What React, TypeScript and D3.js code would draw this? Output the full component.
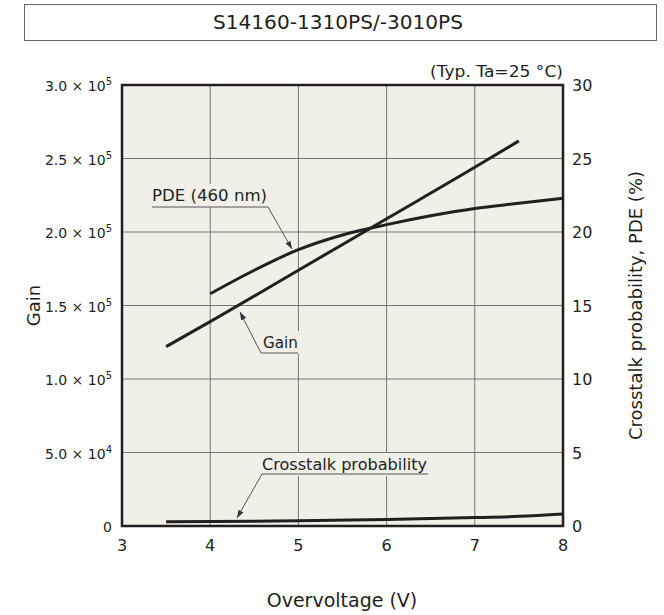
import * as d3 from "d3";

// overvoltage (V)
const gainVolts = [3.5, 4, 5, 6, 7, 7.5];
const gainValues = [1.22e5, 1.39e5, 1.74e5, 2.09e5, 2.44e5, 2.62e5];

const pdeVolts = [4, 4.5, 5, 5.5, 6, 6.5, 7, 7.5, 8];
const pdeValues = [15.8, 17.4, 18.8, 19.8, 20.5, 21.1, 21.6, 21.95, 22.3];

const ctVolts = [3.5, 4, 5, 6, 7, 7.5, 8];
const ctValues = [0.29, 0.3, 0.36, 0.45, 0.57, 0.66, 0.82];

const xTicks = [3, 4, 5, 6, 7, 8];
const gainTicks = [0, 5e4, 1e5, 1.5e5, 2e5, 2.5e5, 3e5];
const gainTickLabels = [
  ["0", ""],
  ["5.0 × 10", "4"],
  ["1.0 × 10", "5"],
  ["1.5 × 10", "5"],
  ["2.0 × 10", "5"],
  ["2.5 × 10", "5"],
  ["3.0 × 10", "5"],
];
const pctTicks = [0, 5, 10, 15, 20, 25, 30];

const W = 664;
const H = 615;
const m = { left: 122, right: 563, top: 85, bottom: 526 };
const ink = "#231f20";
const font = "'DejaVu Sans', Verdana, sans-serif";

export default function App() {
  const x = d3.scaleLinear().domain([3, 8]).range([m.left, m.right]);
  const yGain = d3.scaleLinear().domain([0, 3e5]).range([m.bottom, m.top]);
  const yPct = d3.scaleLinear().domain([0, 30]).range([m.bottom, m.top]);

  const gainLine = d3
    .line<number>()
    .x((d, i) => x(gainVolts[i]))
    .y((d) => yGain(d))
    .curve(d3.curveMonotoneX);
  const pctLine = (volts: number[]) =>
    d3
      .line<number>()
      .x((d, i) => x(volts[i]))
      .y((d) => yPct(d))
      .curve(d3.curveMonotoneX);

  const label = (
    text: string,
    tx: number,
    ty: number,
    w: number,
    leader: [number, number][]
  ) => (
    <g>
      <rect x={tx - 2} y={ty - 17} width={w + 4} height={23} fill="#f0efe8" />
      <text x={tx} y={ty} fontSize={16.5} fill={ink} fontFamily={font} textLength={w} lengthAdjust="spacingAndGlyphs">
        {text}
      </text>
      <path
        d={d3.line()(leader) || ""}
        fill="none"
        stroke="#555"
        strokeWidth={1}
        markerEnd="url(#arr)"
      />
    </g>
  );

  return (
    <svg width={W} height={H} style={{ position: "absolute", left: 0, top: 0 }}>
      <defs>
        <marker
          id="arr"
          viewBox="0 0 10 10"
          refX="10"
          refY="5"
          markerWidth="8"
          markerHeight="8"
          orient="auto"
          markerUnits="userSpaceOnUse"
        >
          <path d="M0,1.5 L10,5 L0,8.5 Z" fill="#333" />
        </marker>
      </defs>
      <rect width={W} height={H} fill="#fff" />

      {/* title box */}
      <rect x={24.5} y={4.5} width={632} height={36} fill="#fff" stroke="#666" strokeWidth={1} />
      <text x={338} y={29} textAnchor="middle" fontSize={20} fill={ink} fontFamily={font} textLength={250} lengthAdjust="spacingAndGlyphs">
        S14160-1310PS/-3010PS
      </text>

      {/* plot area */}
      <rect
        x={m.left}
        y={m.top}
        width={m.right - m.left}
        height={m.bottom - m.top}
        fill="#f0efe8"
      />
      {xTicks.slice(1, -1).map((t) => (
        <line key={"vx" + t} x1={x(t)} x2={x(t)} y1={m.top} y2={m.bottom} stroke="#777" strokeWidth={1} />
      ))}
      {gainTicks.slice(1, -1).map((t) => (
        <line key={"hy" + t} x1={m.left} x2={m.right} y1={yGain(t)} y2={yGain(t)} stroke="#777" strokeWidth={1} />
      ))}

      {/* annotations */}
      {label("PDE (460 nm)", 152, 201, 115, [
        [152, 207],
        [268, 207],
        [292, 249],
      ])}
      {label("Gain", 263, 348, 35, [
        [298, 353],
        [261, 353],
        [240, 312],
      ])}
      {label("Crosstalk probability", 262, 470, 165, [
        [428, 474],
        [262, 474],
        [237, 518],
      ])}

      {/* curves */}
      <path d={gainLine(gainValues) || ""} fill="none" stroke={ink} strokeWidth={3} />
      <path d={pctLine(pdeVolts)(pdeValues) || ""} fill="none" stroke={ink} strokeWidth={3} />
      <path d={pctLine(ctVolts)(ctValues) || ""} fill="none" stroke={ink} strokeWidth={3} />

      <rect
        x={m.left}
        y={m.top}
        width={m.right - m.left}
        height={m.bottom - m.top}
        fill="none"
        stroke={ink}
        strokeWidth={2.5}
      />

      {/* x ticks */}
      {xTicks.map((t) => (
        <text key={"xt" + t} x={x(t)} y={551} textAnchor="middle" fontSize={16} fill={ink} fontFamily={font}>
          {t}
        </text>
      ))}
      {/* left ticks */}
      {gainTicks.map((t, i) => (
        <text key={"gt" + t} x={112} y={yGain(t) + 6} textAnchor="end" fontSize={14} fill={ink} fontFamily={font}>
          {gainTickLabels[i][0]}
          {gainTickLabels[i][1] && (
            <tspan dy={-6} fontSize={10}>
              {gainTickLabels[i][1]}
            </tspan>
          )}
        </text>
      ))}
      {/* right ticks */}
      {pctTicks.map((t) => (
        <text key={"pt" + t} x={572} y={yPct(t) + 6} fontSize={16} fill={ink} fontFamily={font}>
          {t}
        </text>
      ))}

      <text x={563} y={77} textAnchor="end" fontSize={16.5} fill={ink} fontFamily={font} textLength={133} lengthAdjust="spacingAndGlyphs">
        (Typ. Ta=25 °C)
      </text>
      <text x={342} y={607} textAnchor="middle" fontSize={19} fill={ink} fontFamily={font}>
        Overvoltage (V)
      </text>
      <text
        transform={`translate(40,${(m.top + m.bottom) / 2}) rotate(-90)`}
        textAnchor="middle"
        fontSize={18}
        fill={ink}
        fontFamily={font}
      >
        Gain
      </text>
      <text
        transform={`translate(642,${(m.top + m.bottom) / 2}) rotate(-90)`}
        textAnchor="middle"
        fontSize={18}
        fill={ink}
        fontFamily={font}
      >
        Crosstalk probability, PDE (%)
      </text>
    </svg>
  );
}
